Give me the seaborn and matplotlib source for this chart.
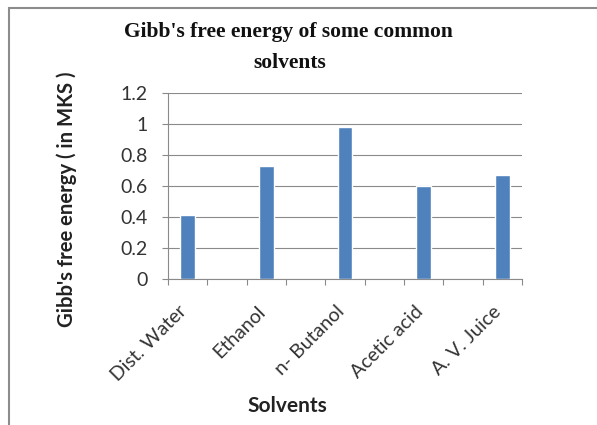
import matplotlib
matplotlib.use("Agg")
import matplotlib.pyplot as plt
from matplotlib.patches import Rectangle
from matplotlib.ticker import FixedLocator
from matplotlib.transforms import ScaledTranslation
import seaborn as sns
import pandas as pd

solvents = ["Dist. Water", "Ethanol", "n- Butanol", "Acetic acid", "A. V. Juice"]
energy = [0.41, 0.73, 0.98, 0.60, 0.67]
y_ticks = [0, 0.2, 0.4, 0.6, 0.8, 1.0, 1.2]
y_tick_labels = ["0", "0.2", "0.4", "0.6", "0.8", "1", "1.2"]
title_lines = ["Gibb's free energy of some common", "solvents"]
x_label = "Solvents"
y_label = "Gibb's free energy ( in MKS )"

df = pd.DataFrame({"solvent": solvents, "energy": energy})

sns.set_theme(style="white")
plt.rcParams["font.family"] = ["Lato", "DejaVu Sans"]

W, H = 597, 425
fig = plt.figure(figsize=(W / 100, H / 100), dpi=100)
ax = fig.add_axes([168 / W, 1 - 279 / H, 354 / W, 186.3 / H])

sns.barplot(data=df, x="solvent", y="energy", color="#4F81BD",
            width=0.19, saturation=1, ax=ax, zorder=3)

ax.set_ylim(0, 1.2)
ax.set_xlim(-0.25, len(solvents) - 0.75)
ax.set_yticks(y_ticks)
ax.set_yticklabels(y_tick_labels)
ax.grid(axis="y", color="#8a8a8a", linewidth=0.8, zorder=0)

for s in ["top", "right"]:
    ax.spines[s].set_visible(False)
for s in ["left", "bottom"]:
    ax.spines[s].set_color("#8a8a8a")
    ax.spines[s].set_linewidth(0.8)

ax.tick_params(axis="y", which="major", direction="out", length=4.3, width=0.8,
               color="#8a8a8a", labelsize=14, labelcolor="#333333", pad=10.5, left=True)
ax.xaxis.set_minor_locator(FixedLocator([i * 0.5 - 0.25 for i in range(2 * len(solvents))]))
ax.tick_params(axis="x", which="minor", direction="out", length=4, width=0.8,
               color="#8a8a8a", bottom=True)
ax.tick_params(axis="x", which="major", length=0, labelsize=14,
               labelcolor="#333333", pad=17)
shift_left = ScaledTranslation(-7 / 72, 0, fig.dpi_scale_trans)
for lab in ax.get_xticklabels():
    lab.set_rotation(45)
    lab.set_ha("right")
    lab.set_rotation_mode("anchor")
    lab.set_transform(lab.get_transform() + shift_left)

ax.set_xlabel(x_label, fontsize=15, fontweight="bold", color="#222222")
ax.set_ylabel(y_label, fontsize=14.6, fontweight="bold", color="#222222")
ax.xaxis.set_label_coords((287 - 168) / 354, (279 - 396) / 186.3)
ax.yaxis.set_label_coords((77 - 168) / 354, (279 - 199) / 186.3)

for line, cx, base in zip(title_lines, [288.5, 290], [36.7, 68.3]):
    fig.text(cx / W, 1 - base / H, line, ha="center", va="baseline",
             fontsize=15.5, fontweight="bold", family="Liberation Serif",
             color="#111111")

fig.patches.append(Rectangle((8.5 / W, -0.1), 1.2, 1 - 8.5 / H + 0.1,
                             transform=fig.transFigure, fill=False,
                             edgecolor="#8c8c8c", linewidth=1.5))

fig.savefig("out.png", dpi=100, facecolor="white")
